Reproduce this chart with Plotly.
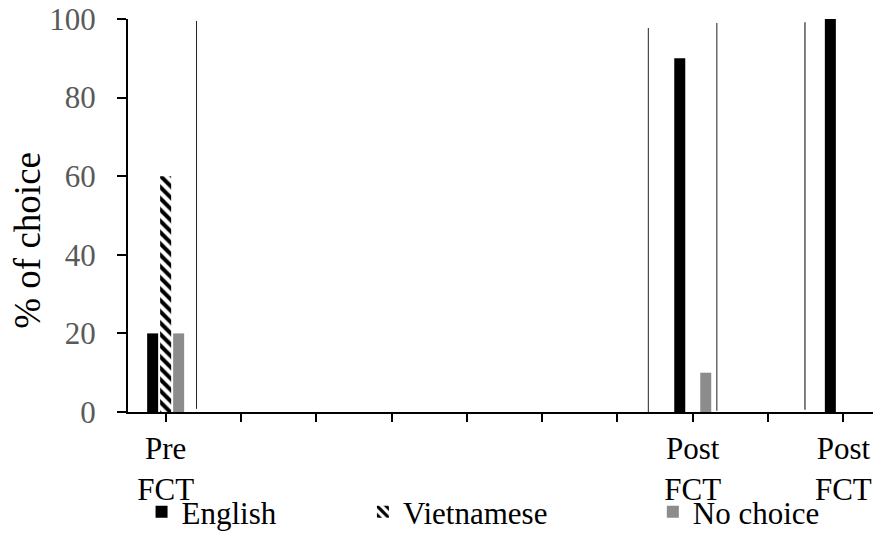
import plotly.graph_objects as go

# ---- data ----
category_index = [0, 1, 2, 3, 4, 5, 6, 7, 8, 9]
category_labels = ["Pre<br>FCT", "", "", "", "", "", "", "Post<br>FCT", "", "Post<br>FCT"]
english = [20, 0, 0, 0, 0, 0, 0, 90, 0, 100]
vietnamese = [60, 0, 0, 0, 0, 0, 0, 0, 0, 0]
no_choice = [20, 0, 0, 0, 0, 0, 0, 10, 0, 0]

# thin vertical rule lines seen in the chart (x in category units, y in %)
rule_x = [0.41, 6.41, 7.32, 8.49, 9.41]
rule_top = [99.5, 97.7, 99.0, 99.2, 99.2]
rule_bottom = [0.8, 0.0, 0.3, 0.6, 0.6]
rule_color = ["#222222", "#222222", "#222222", "#555555", "#222222"]
rule_width = [1, 1, 1, 1.5, 1]

y_ticks = [0, 20, 40, 60, 80, 100]

FONT = "Liberation Serif"

fig = go.Figure()

fig.add_trace(go.Bar(
    x=category_index, y=english, name="English",
    marker=dict(color="black", line=dict(width=0)),
    legend="legend",
))
fig.add_trace(go.Bar(
    x=category_index, y=vietnamese, name="Vietnamese",
    marker=dict(color="white", line=dict(width=0),
                pattern=dict(shape="\\", fgcolor="black", bgcolor="white",
                             size=8, solidity=0.5, fillmode="replace")),
    legend="legend2",
))
fig.add_trace(go.Bar(
    x=category_index, y=no_choice, name="No choice",
    marker=dict(color="#8c8c8c", line=dict(width=0)),
    legend="legend3",
))

for xv, yt, yb, c, w in zip(rule_x, rule_top, rule_bottom, rule_color, rule_width):
    fig.add_trace(go.Scatter(
        x=[xv, xv], y=[yb, yt], mode="lines",
        line=dict(color=c, width=w), showlegend=False, hoverinfo="skip",
    ))

legend_common = dict(
    orientation="h", yanchor="middle", xanchor="left",
    font=dict(family=FONT, size=31, color="black"),
    bgcolor="rgba(0,0,0,0)", borderwidth=0,
)

fig.update_layout(
    width=873, height=529,
    margin=dict(l=120, r=0, t=11, b=125, autoexpand=False),
    paper_bgcolor="white", plot_bgcolor="white",
    barmode="group", bargap=0.482, bargroupgap=0.154,
    font=dict(family=FONT, size=31, color="black"),
    legend=dict(x=0.018, y=-0.255, **legend_common),
    legend2=dict(x=0.312, y=-0.255, **legend_common),
    legend3=dict(x=0.697, y=-0.255, **legend_common),
    xaxis=dict(
        range=[-0.5, 9.5], tickmode="array", tickvals=category_index,
        ticktext=category_labels, ticks="outside", ticklen=8, tickwidth=1.5,
        tickcolor="black", showline=True, linecolor="black", linewidth=2,
        showgrid=False, zeroline=False,
        tickfont=dict(family=FONT, size=31, color="black"),
    ),
    yaxis=dict(
        range=[0, 100], tickmode="array", tickvals=y_ticks,
        ticks="outside", ticklen=9, tickwidth=1.5, tickcolor="black",
        showline=True, linecolor="black", linewidth=2,
        showgrid=False, zeroline=False,
        tickfont=dict(family=FONT, size=31, color="#595959"),
        ticklabelstandoff=15, ticklabeloverflow="allow",
    ),
    annotations=[dict(
        text="% of choice", textangle=-90, showarrow=False,
        xref="paper", yref="paper", x=-0.133, y=0.438,
        xanchor="center", yanchor="middle",
        font=dict(family=FONT, size=37, color="black"),
    )],
)

fig.write_html("out.html")
